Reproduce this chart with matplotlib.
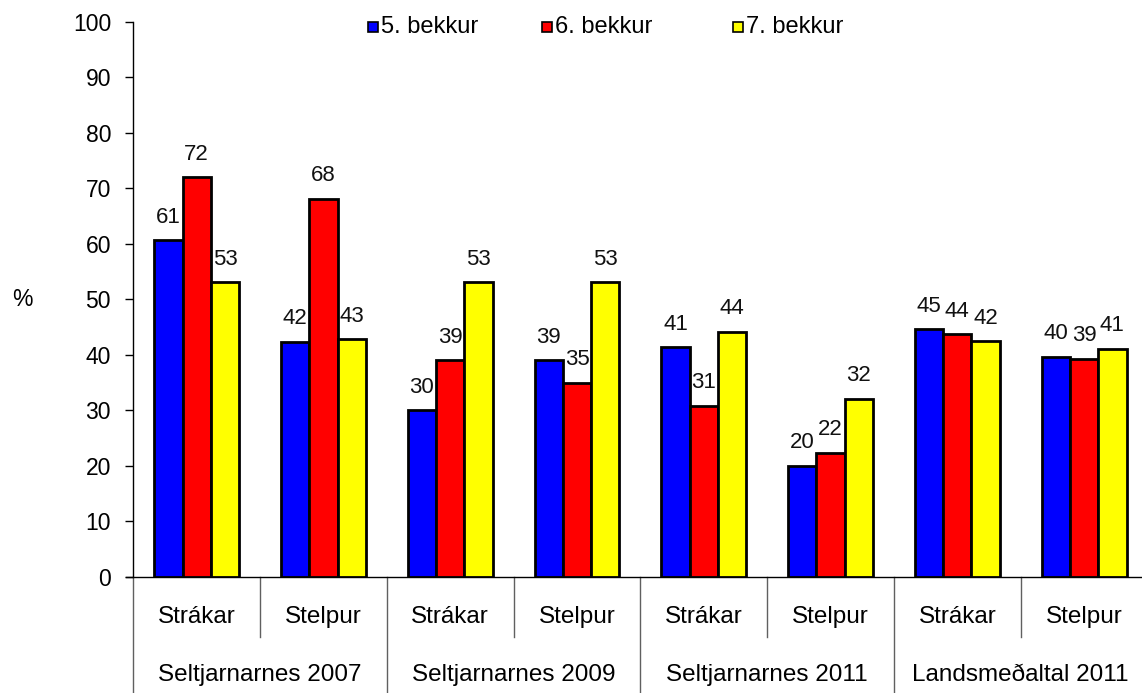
import matplotlib
matplotlib.use("Agg")
import matplotlib.pyplot as plt
import matplotlib.transforms as mtransforms
from matplotlib.patches import Rectangle
import numpy as np

plt.rcParams['font.family'] = ['Liberation Sans', 'DejaVu Sans']

# ---- data ----
groups = ["Seltjarnarnes 2007", "Seltjarnarnes 2009", "Seltjarnarnes 2011", "Landsmeðaltal 2011"]
subgroups = ["Strákar", "Stelpur"]
series_names = ["5. bekkur", "6. bekkur", "7. bekkur"]
bekkur5 = [60.6, 42.3, 30.0, 39.0, 41.3, 20.0, 44.6, 39.6]
bekkur6 = [72.0, 68.1, 39.0, 34.9, 30.8, 22.3, 43.7, 39.3]
bekkur7 = [53.1, 42.8, 53.1, 53.1, 44.1, 32.1, 42.4, 41.1]
series_values = [bekkur5, bekkur6, bekkur7]
colors = ["#0000FF", "#FF0000", "#FFFF00"]
y_ticks = list(range(0, 101, 10))

W, H = 1142, 693
fig = plt.figure(figsize=(W / 100, H / 100), dpi=100)
ax_l, ax_r, ax_t, ax_b = 133.3, 1147.5, 22.0, 576.5
ax = fig.add_axes([ax_l / W, 1 - ax_b / H, (ax_r - ax_l) / W, (ax_b - ax_t) / H])

n = len(bekkur5)
x = np.arange(n)
bw = 0.223
for i, (vals, c, name) in enumerate(zip(series_values, colors, series_names)):
    xs = x + (i - 1) * bw
    ax.bar(xs, vals, width=bw, color=c, edgecolor="black", linewidth=2.0, label=name, zorder=3)
    for xi, v in zip(xs, vals):
        ax.annotate(f"{v:.0f}", (xi, v), xytext=(0, 9), textcoords="offset points",
                    ha="center", va="bottom", fontsize=16, color="#111111")

ax.set_xlim(-0.5, n - 0.5)
ax.set_ylim(0, 100)
ax.set_yticks(y_ticks)
ax.tick_params(axis="y", direction="out", length=6, width=1, pad=10, labelsize=16.5, colors="black")
ax.set_xticks([])
for s in ["top", "right"]:
    ax.spines[s].set_visible(False)
ax.spines["left"].set_linewidth(1.0)
ax.spines["bottom"].set_linewidth(1.0)
ax.spines["bottom"].set_bounds(-0.5 - 7 / 127.0, n - 0.5)

# multi-level category axis
trans = mtransforms.blended_transform_factory(ax.transData, ax.transAxes)
ax_h = ax_b - ax_t
sub_bottom = -(637 - ax_b) / ax_h
grp_bottom = -(H - ax_b) / ax_h
sub_text_y = -(617 - ax_b) / ax_h
grp_text_y = -(675 - ax_b) / ax_h
for k in range(n + 1):
    xb = k - 0.5
    yb = grp_bottom if k % 2 == 0 else sub_bottom
    ax.plot([xb, xb], [0, yb], transform=trans, color="#606060", lw=1.0, clip_on=False)
for k in range(n):
    ax.text(k, sub_text_y, subgroups[k % 2], transform=trans, ha="center", va="center", fontsize=17.5)
for g, name in enumerate(groups):
    ax.text(2 * g + 0.5, grp_text_y, name, transform=trans, ha="center", va="center", fontsize=17.5)

# legend (manual)
leg_marker_x = [368, 542, 733]
leg_y = 27
msz = 10
for mx, c, name in zip(leg_marker_x, colors, series_names):
    fig.add_artist(Rectangle((mx / W, 1 - (leg_y + msz / 2) / H), msz / W, msz / H,
                             transform=fig.transFigure, facecolor=c, edgecolor="black", lw=1.2))
    fig.text((mx + msz + 3) / W, 1 - leg_y / H, name, ha="left", va="center", fontsize=17)

fig.text(22 / W, 1 - 300 / H, "%", ha="center", va="center", fontsize=16.5)

fig.savefig("out.png", dpi=100)
